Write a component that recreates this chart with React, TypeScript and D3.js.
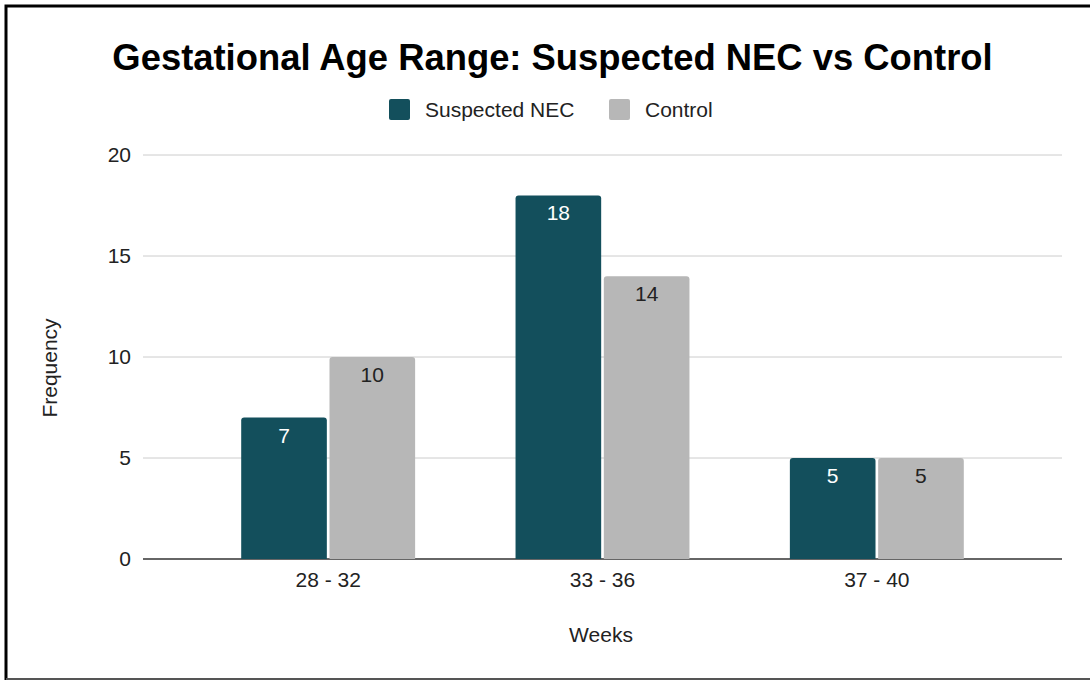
import React from "react";
import * as d3 from "d3";

// values
const categories = ["28 - 32", "33 - 36", "37 - 40"];
const seriesNames = ["Suspected NEC", "Control"];
const suspectedNec = [7, 18, 5];
const control = [10, 14, 5];
const yTicks = [0, 5, 10, 15, 20];

const colors = ["#134f5c", "#b7b7b7"];
const labelColors = ["#ffffff", "#222222"];

const width = 1090;
const height = 680;
const plot = { left: 143, right: 1062, top: 155, bottom: 559 };

// rect with only the top corners rounded
function topRounded(x: number, y: number, w: number, h: number, r: number) {
  const rr = Math.min(r, h, w / 2);
  return `M${x},${y + h}V${y + rr}Q${x},${y} ${x + rr},${y}H${x + w - rr}Q${x + w},${y} ${x + w},${y + rr}V${y + h}Z`;
}

const App: React.FC = () => {
  const values = [suspectedNec, control];

  const x0 = d3
    .scaleBand<string>()
    .domain(categories)
    .range([191, 1014])
    .paddingInner(0.366)
    .paddingOuter(0.183);

  const x1 = d3
    .scaleBand<string>()
    .domain(seriesNames)
    .range([0, x0.bandwidth()])
    .paddingInner(0.03);

  const y = d3.scaleLinear().domain([0, 20]).range([plot.bottom, plot.top]);

  const font = "'Liberation Sans', Arial, sans-serif";
  const fs = 21;

  return (
    <svg
      width={width}
      height={height}
      style={{ position: "absolute", left: 0, top: 0, background: "#fff" }}
    >
      <rect x={0} y={0} width={width} height={height} fill="#fff" />
      {/* frame */}
      <path d={`M6,${height}V6H${width}`} fill="none" stroke="#000" strokeWidth={3} />
      <line x1={6} x2={width} y1={679} y2={679} stroke="#555" strokeWidth={2} />

      <text
        x={552.5}
        y={70}
        textAnchor="middle"
        fontFamily={font}
        fontWeight="bold"
        fontSize={36.4}
        fill="#000"
      >
        Gestational Age Range: Suspected NEC vs Control
      </text>

      {/* legend */}
      {seriesNames.map((s, i) => {
        const lx = i === 0 ? 389 : 609;
        return (
          <g key={s}>
            <rect x={lx} y={99} width={21} height={21} rx={2} fill={colors[i]} />
            <text x={lx + 36} y={117} fontFamily={font} fontSize={fs} fill="#222">
              {s}
            </text>
          </g>
        );
      })}

      {/* grid + y ticks */}
      {yTicks.map((t) => (
        <g key={t}>
          <line
            x1={plot.left}
            x2={plot.right}
            y1={y(t)}
            y2={y(t)}
            stroke={t === 0 ? "#333" : "#cccccc"}
            strokeWidth={t === 0 ? 1.5 : 1}
          />
          <text
            x={131}
            y={y(t) + 7}
            textAnchor="end"
            fontFamily={font}
            fontSize={fs}
            fill="#222"
          >
            {t}
          </text>
        </g>
      ))}

      {/* bars */}
      {categories.map((c, ci) => (
        <g key={c} transform={`translate(${x0(c)},0)`}>
          {seriesNames.map((s, si) => {
            const v = values[si][ci];
            const bx = x1(s) as number;
            const by = y(v);
            return (
              <g key={s}>
                <path
                  d={topRounded(bx, by, x1.bandwidth(), y(0) - by, 3)}
                  fill={colors[si]}
                />
                <text
                  x={bx + x1.bandwidth() / 2}
                  y={by + 25}
                  textAnchor="middle"
                  fontFamily={font}
                  fontSize={fs}
                  fill={labelColors[si]}
                >
                  {v}
                </text>
              </g>
            );
          })}
          <text
            x={x0.bandwidth() / 2}
            y={587}
            textAnchor="middle"
            fontFamily={font}
            fontSize={fs}
            fill="#222"
          >
            {c}
          </text>
        </g>
      ))}

      <text x={601} y={642} textAnchor="middle" fontFamily={font} fontSize={fs} fill="#222">
        Weeks
      </text>
      <text
        transform={`translate(57,368) rotate(-90)`}
        textAnchor="middle"
        fontFamily={font}
        fontSize={fs}
        fill="#222"
      >
        Frequency
      </text>
    </svg>
  );
};

export default App;
